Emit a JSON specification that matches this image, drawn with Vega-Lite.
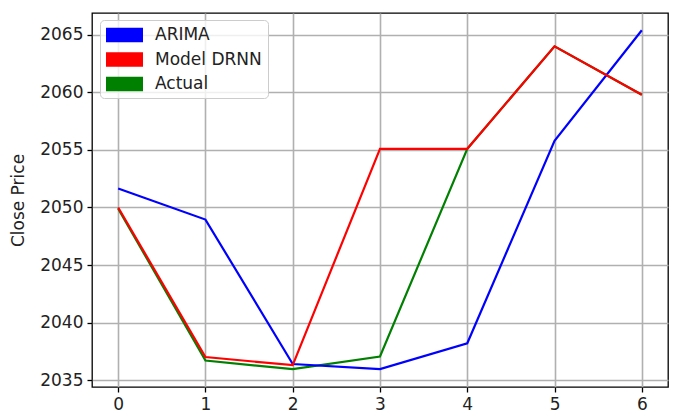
{
  "$schema": "https://vega.github.io/schema/vega-lite/v6.json",
  "autosize": "none",
  "width": 576,
  "height": 374,
  "padding": {"left": 92, "top": 13, "right": 5, "bottom": 29},
  "background": "white",
  "config": {
    "font": "DejaVu Sans",
    "view": {"stroke": "black", "strokeWidth": 1.3},
    "axis": {
      "labelFont": "DejaVu Sans",
      "labelFontSize": 17,
      "labelColor": "#222",
      "titleFont": "DejaVu Sans",
      "titleFontSize": 17,
      "titleFontWeight": "normal",
      "titleColor": "#222",
      "gridColor": "#b0b0b0",
      "gridWidth": 1.6,
      "gridOpacity": 1,
      "domain": false,
      "tickColor": "black",
      "tickWidth": 1.3,
      "tickSize": 5,
      "labelPadding": 4
    }
  },
  "data": {
    "values": [
      {"x": 0, "series": "ARIMA", "price": 2051.65},
      {"x": 1, "series": "ARIMA", "price": 2048.95},
      {"x": 2, "series": "ARIMA", "price": 2036.4},
      {"x": 3, "series": "ARIMA", "price": 2035.95},
      {"x": 4, "series": "ARIMA", "price": 2038.2},
      {"x": 5, "series": "ARIMA", "price": 2055.8},
      {"x": 6, "series": "ARIMA", "price": 2065.4},
      {"x": 0, "series": "Model DRNN", "price": 2050.0},
      {"x": 1, "series": "Model DRNN", "price": 2037.0},
      {"x": 2, "series": "Model DRNN", "price": 2036.3},
      {"x": 3, "series": "Model DRNN", "price": 2055.1},
      {"x": 4, "series": "Model DRNN", "price": 2055.1},
      {"x": 5, "series": "Model DRNN", "price": 2064.0},
      {"x": 6, "series": "Model DRNN", "price": 2059.8},
      {"x": 0, "series": "Actual", "price": 2049.9},
      {"x": 1, "series": "Actual", "price": 2036.7},
      {"x": 2, "series": "Actual", "price": 2035.95},
      {"x": 3, "series": "Actual", "price": 2037.05},
      {"x": 4, "series": "Actual", "price": 2055.1},
      {"x": 5, "series": "Actual", "price": 2064.0},
      {"x": 6, "series": "Actual", "price": 2059.8}
    ]
  },
  "encoding": {
    "x": {
      "field": "x", "type": "quantitative",
      "scale": {"domain": [-0.3, 6.3], "nice": false, "zero": false},
      "axis": {"values": [0, 1, 2, 3, 4, 5, 6], "title": null, "format": "d"}
    },
    "y": {
      "field": "price", "type": "quantitative",
      "scale": {"domain": [2034.4, 2066.9], "nice": false, "zero": false},
      "axis": {"values": [2035, 2040, 2045, 2050, 2055, 2060, 2065], "title": "Close Price", "format": "d", "titlePadding": 12}
    },
    "color": {
      "field": "series", "type": "nominal",
      "scale": {"domain": ["ARIMA", "Model DRNN", "Actual"], "range": ["#0000ff", "#ff0000", "#008000"]},
      "legend": {
        "title": null,
        "orient": "none",
        "legendX": 8,
        "legendY": 7,
        "symbolType": "M-1,-0.39H1V0.39H-1Z",
        "symbolSize": 1369,
        "symbolStrokeWidth": 0,
        "labelFont": "DejaVu Sans",
        "labelFontSize": 17,
        "labelColor": "#222",
        "labelOffset": 12,
        "rowPadding": 7.5,
        "padding": 6,
        "fillColor": "rgba(255,255,255,0.8)",
        "strokeColor": "#cccccc",
        "cornerRadius": 4,
        "encode": {
          "symbols": {"update": {"fill": {"scale": "color", "field": "value"}, "fillOpacity": {"value": 1}, "strokeWidth": {"value": 0}, "y": {"value": 9}}},
          "labels": {"update": {"y": {"value": 9}}}
        }
      }
    }
  },
  "layer": [
    {"transform": [{"filter": "datum.series === 'Actual'"}], "mark": {"type": "line", "strokeWidth": 2.2}},
    {"transform": [{"filter": "datum.series === 'ARIMA'"}], "mark": {"type": "line", "strokeWidth": 2.2}},
    {"transform": [{"filter": "datum.series === 'Model DRNN'"}], "mark": {"type": "line", "strokeWidth": 2.2}}
  ]
}
